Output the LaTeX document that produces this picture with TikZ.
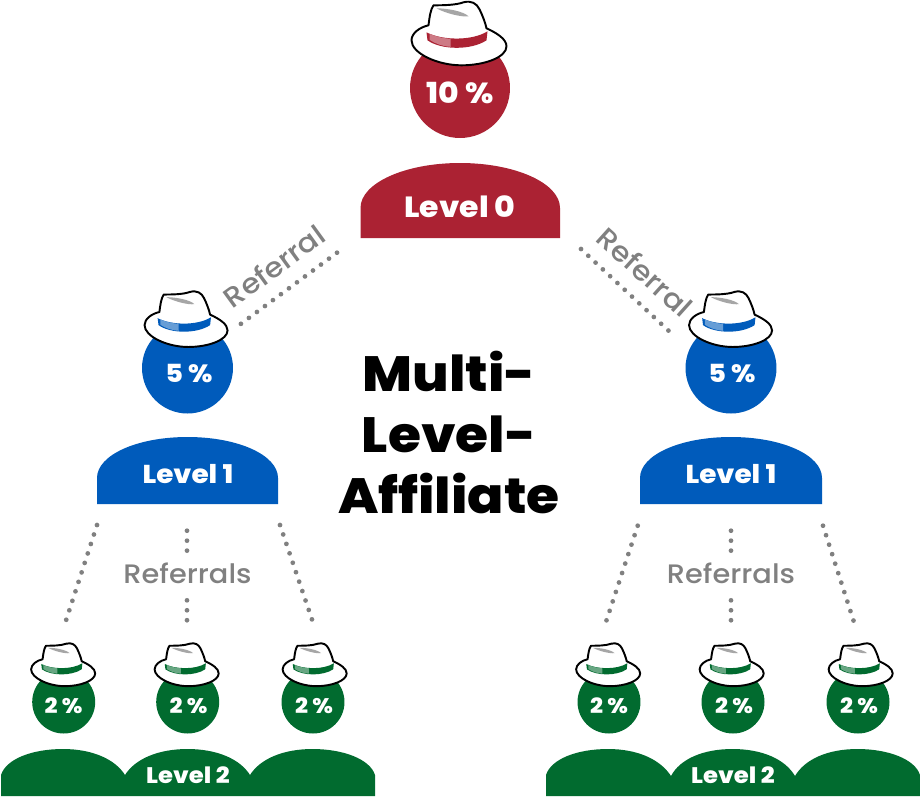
\documentclass[tikz,border=0pt]{standalone}
\usepackage{fontspec}
\setmainfont{Poppins}[BoldFont={Poppins ExtraBold},BoldFeatures={FakeStretch=1.08}]
\newfontfamily\mlmedium{Poppins Medium}[FakeStretch=1.08]
\usepackage{xcolor}
\definecolor{mlred}{HTML}{AB2233}
\definecolor{mlblue}{HTML}{005BBB}
\definecolor{mlgreen}{HTML}{016B2F}
\definecolor{mlgrey}{HTML}{808080}
\tikzset{
  mlcircle/.style={circle, inner sep=0pt},
  mllabel/.style={text=white, inner sep=0pt},
  mlrefer/.style={text=mlgrey, font=\mlmedium\fontsize{15.8}{18}\selectfont, inner sep=0pt},
  mlrefers/.style={text=mlgrey, font=\mlmedium\fontsize{15.2}{18}\selectfont, inner sep=0pt},
  mldots/.style={draw=mlgrey, line width=2.7pt, line cap=round, dash pattern=on 0pt off 5.67pt},
  pics/mlhat/.style={code={
    \draw[fill=white, draw=black, line width=1.1pt, line join=round]
      (-31,-8) .. controls (-30,-16) and (-29,-24) .. (-26,-28)
      .. controls (-18,-28) and (-4,-28) .. (4,-31)
      .. controls (12,-33) and (17,-30) .. (20,-24)
      .. controls (23,-18) and (26,-10) .. (27,-5)
      .. controls (38,0) and (47,6) .. (47,13)
      .. controls (47,24) and (25,32) .. (2,32)
      .. controls (-22,32) and (-48,20) .. (-48,7)
      .. controls (-48,0) and (-40,-6) .. (-31,-8) -- cycle;
    \fill[#1] (-33,-1) .. controls (-18,7) and (12,8) .. (28,-2)
      -- (27,7) .. controls (12,17) and (-18,17) .. (-32,7) -- cycle;
    \fill[#1!60!white] (-30,0.5) .. controls (-23,3.5) and (-16,5) .. (-9,5.5)
      -- (-9,13.5) .. controls (-17,13) and (-24,10.5) .. (-30,6.5) -- cycle;
    \fill[black!35] (-23,-25) .. controls (-12,-25) and (4,-22) .. (9,-17)
      .. controls (2,-16) and (-14,-20) .. (-23,-25) -- cycle;
  }},
}

\begin{document}
\begin{tikzpicture}[x=0.02cm, y=-0.02cm]
\useasboundingbox (0,0) rectangle (920,796);
\fill[mlred] (360.5,238) -- (360.5,208) .. controls (360.5,183) and (405,163) .. (460,163) .. controls (515,163) and (560,183) .. (560,208) -- (560,238) -- cycle;
\fill[mlblue] (97,504) -- (97,478) .. controls (97,455) and (137,437) .. (187.5,437) .. controls (238,437) and (278,455) .. (278,478) -- (278,504) -- cycle;
\fill[mlblue] (640,504) -- (640,478) .. controls (640,455) and (680,437) .. (731,437) .. controls (782,437) and (822,455) .. (822,478) -- (822,504) -- cycle;
\fill[mlgreen] (1,796) -- (1,775) .. controls (6,759) and (32,749) .. (63,749) .. controls (92,749) and (115,759) .. (125,775) .. controls (135,759) and (158,749) .. (187.5,749) .. controls (217,749) and (240,759) .. (250,775) .. controls (260,759) and (283,749) .. (312.5,749) .. controls (343,749) and (370,759) .. (375,775) -- (375,796) -- cycle;
\fill[mlgreen] (546,796) -- (546,775) .. controls (551,759) and (577,749) .. (608,749) .. controls (637,749) and (660,759) .. (671,776) .. controls (680,759) and (703,749) .. (732.5,749) .. controls (762,749) and (785,759) .. (795,776) .. controls (805,759) and (828,749) .. (857.5,749) .. controls (888,749) and (915,759) .. (920,775) -- (920,796) -- cycle;
\node[mllabel, font=\fontsize{16.6}{18}\selectfont\bfseries] (lvl0) at (460,207) {Level 0};
\node[mllabel, font=\fontsize{14.7}{16}\selectfont\bfseries] (lvl1a) at (188,474) {Level 1};
\node[mllabel, font=\fontsize{14.7}{16}\selectfont\bfseries] (lvl1b) at (731,474) {Level 1};
\node[mllabel, font=\fontsize{12.8}{14}\selectfont\bfseries] (lvl2a) at (188,775) {Level 2};
\node[mllabel, font=\fontsize{12.8}{14}\selectfont\bfseries] (lvl2b) at (733,775) {Level 2};
\node[mlcircle, fill=mlred, minimum size=2cm] (pct0) at (460,88) {};
\node[mlcircle, fill=mlblue, minimum size=1.82cm] (pct1a) at (187.5,368) {};
\node[mlcircle, fill=mlblue, minimum size=1.82cm] (pct1b) at (731,368) {};
\node[mlcircle, fill=mlgreen, minimum size=1.26cm] (pct2a) at (63.7,702) {};
\node[mlcircle, fill=mlgreen, minimum size=1.26cm] (pct2b) at (187.7,702) {};
\node[mlcircle, fill=mlgreen, minimum size=1.26cm] (pct2c) at (313,702) {};
\node[mlcircle, fill=mlgreen, minimum size=1.26cm] (pct2d) at (609,702) {};
\node[mlcircle, fill=mlgreen, minimum size=1.26cm] (pct2e) at (733,702) {};
\node[mlcircle, fill=mlgreen, minimum size=1.26cm] (pct2f) at (858,702) {};
\node[mllabel, font=\fontsize{16.5}{18}\selectfont\bfseries] at (460,93) {10 \%};
\node[mllabel, font=\fontsize{14.2}{16}\selectfont\bfseries] at (189,374) {5 \%};
\node[mllabel, font=\fontsize{14.2}{16}\selectfont\bfseries] at (732,374) {5 \%};
\foreach \x in {63.5,188.5,314,609,734,859}
  \node[mllabel, font=\fontsize{12}{14}\selectfont\bfseries] at (\x,705.5) {2 \%};
\pic at (459.5,33.3) {mlhat=mlred};
\pic[scale=.874] at (186.5,319) {mlhat=mlblue};
\pic[scale=.874] at (731,319) {mlhat=mlblue};
\foreach \x in {63.5,187,315,608.5,732,861}
  \pic[scale=.674] at (\x,664.6) {mlhat=mlgreen};
\coordinate (r0a) at (337,252.7);
\coordinate (r0b) at (240,324.5);
\coordinate (r1a) at (581,249);
\coordinate (r1b) at (670.5,332.5);
\draw[mldots] (r0a) -- (r0b);
\draw[mldots] (r1a) -- (r1b);
\coordinate (l1a) at (97,525);
\coordinate (l1b) at (66,620.5);
\coordinate (l2a) at (187,530.7);
\coordinate (l2b) at (187,551);
\coordinate (l3a) at (187,600.3);
\coordinate (l3b) at (187,620.6);
\coordinate (l4a) at (280,525);
\coordinate (l4b) at (312.5,621);
\coordinate (m1a) at (637.7,525.7);
\coordinate (m1b) at (606.3,620.9);
\coordinate (m2a) at (731,530.7);
\coordinate (m2b) at (731,551);
\coordinate (m3a) at (731,600.3);
\coordinate (m3b) at (731,620.6);
\coordinate (m4a) at (823,525.7);
\coordinate (m4b) at (853.7,621.2);
\draw[mldots] (l1a) -- (l1b);
\draw[mldots] (l2a) -- (l2b);
\draw[mldots] (l3a) -- (l3b);
\draw[mldots] (l4a) -- (l4b);
\draw[mldots] (m1a) -- (m1b);
\draw[mldots] (m2a) -- (m2b);
\draw[mldots] (m3a) -- (m3b);
\draw[mldots] (m4a) -- (m4b);
\node[mlrefer, rotate=36] (ref0) at (274,266) {Referral};
\node[mlrefer, rotate=-42] (ref1) at (645,272) {Referral};
\node[mlrefers] (ref2) at (187.5,573) {Referrals};
\node[mlrefers] (ref3) at (731,573) {Referrals};
\node[inner sep=0pt, align=center, font=\fontsize{28.2}{34.9}\selectfont\bfseries] (title) at (449,432.5) {Multi-\\Level-\\Affiliate};
\end{tikzpicture}
\end{document}
